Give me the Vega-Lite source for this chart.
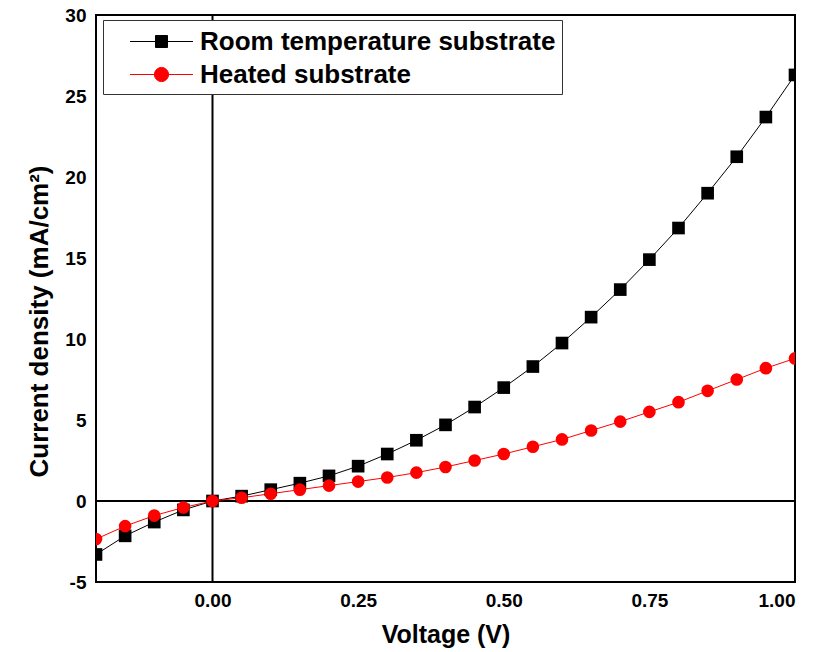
{
  "$schema": "https://vega.github.io/schema/vega-lite/v6.json",
  "width": 699,
  "height": 567,
  "autosize": {"type": "none"},
  "padding": {"left": 96, "top": 15, "right": 20, "bottom": 70},
  "background": "white",
  "config": {
    "view": {"stroke": "black", "strokeWidth": 2},
    "font": "Liberation Sans",
    "axis": {
      "grid": false, "ticks": false, "domain": false,
      "labelFont": "Liberation Sans", "labelFontWeight": "bold", "labelFontSize": 19, "labelColor": "black",
      "titleFont": "Liberation Sans", "titleFontWeight": "bold", "titleFontSize": 25, "titleColor": "black"
    }
  },
  "datasets": {
    "jv": [
      {"v": -0.2, "j": -3.3, "s": "Room temperature substrate"},
      {"v": -0.15, "j": -2.15, "s": "Room temperature substrate"},
      {"v": -0.1, "j": -1.3, "s": "Room temperature substrate"},
      {"v": -0.05, "j": -0.55, "s": "Room temperature substrate"},
      {"v": 0.0, "j": 0.0, "s": "Room temperature substrate"},
      {"v": 0.05, "j": 0.3, "s": "Room temperature substrate"},
      {"v": 0.1, "j": 0.7, "s": "Room temperature substrate"},
      {"v": 0.15, "j": 1.1, "s": "Room temperature substrate"},
      {"v": 0.2, "j": 1.55, "s": "Room temperature substrate"},
      {"v": 0.25, "j": 2.15, "s": "Room temperature substrate"},
      {"v": 0.3, "j": 2.9, "s": "Room temperature substrate"},
      {"v": 0.35, "j": 3.75, "s": "Room temperature substrate"},
      {"v": 0.4, "j": 4.7, "s": "Room temperature substrate"},
      {"v": 0.45, "j": 5.8, "s": "Room temperature substrate"},
      {"v": 0.5, "j": 7.0, "s": "Room temperature substrate"},
      {"v": 0.55, "j": 8.3, "s": "Room temperature substrate"},
      {"v": 0.6, "j": 9.75, "s": "Room temperature substrate"},
      {"v": 0.65, "j": 11.35, "s": "Room temperature substrate"},
      {"v": 0.7, "j": 13.05, "s": "Room temperature substrate"},
      {"v": 0.75, "j": 14.9, "s": "Room temperature substrate"},
      {"v": 0.8, "j": 16.85, "s": "Room temperature substrate"},
      {"v": 0.85, "j": 19.0, "s": "Room temperature substrate"},
      {"v": 0.9, "j": 21.25, "s": "Room temperature substrate"},
      {"v": 0.95, "j": 23.7, "s": "Room temperature substrate"},
      {"v": 1.0, "j": 26.3, "s": "Room temperature substrate"},
      {"v": -0.2, "j": -2.35, "s": "Heated substrate"},
      {"v": -0.15, "j": -1.55, "s": "Heated substrate"},
      {"v": -0.1, "j": -0.9, "s": "Heated substrate"},
      {"v": -0.05, "j": -0.4, "s": "Heated substrate"},
      {"v": 0.0, "j": 0.0, "s": "Heated substrate"},
      {"v": 0.05, "j": 0.2, "s": "Heated substrate"},
      {"v": 0.1, "j": 0.45, "s": "Heated substrate"},
      {"v": 0.15, "j": 0.7, "s": "Heated substrate"},
      {"v": 0.2, "j": 0.95, "s": "Heated substrate"},
      {"v": 0.25, "j": 1.2, "s": "Heated substrate"},
      {"v": 0.3, "j": 1.45, "s": "Heated substrate"},
      {"v": 0.35, "j": 1.75, "s": "Heated substrate"},
      {"v": 0.4, "j": 2.1, "s": "Heated substrate"},
      {"v": 0.45, "j": 2.5, "s": "Heated substrate"},
      {"v": 0.5, "j": 2.9, "s": "Heated substrate"},
      {"v": 0.55, "j": 3.35, "s": "Heated substrate"},
      {"v": 0.6, "j": 3.8, "s": "Heated substrate"},
      {"v": 0.65, "j": 4.35, "s": "Heated substrate"},
      {"v": 0.7, "j": 4.9, "s": "Heated substrate"},
      {"v": 0.75, "j": 5.5, "s": "Heated substrate"},
      {"v": 0.8, "j": 6.1, "s": "Heated substrate"},
      {"v": 0.85, "j": 6.8, "s": "Heated substrate"},
      {"v": 0.9, "j": 7.5, "s": "Heated substrate"},
      {"v": 0.95, "j": 8.2, "s": "Heated substrate"},
      {"v": 1.0, "j": 8.8, "s": "Heated substrate"}
    ]
  },
  "layer": [
    {
      "data": {"values": [{"x0": 0}]},
      "mark": {"type": "rule", "color": "black", "strokeWidth": 2},
      "encoding": {"x": {"field": "x0", "type": "quantitative", "scale": {"domain": [-0.2, 1.0]}}}
    },
    {
      "data": {"values": [{"y0": 0}]},
      "mark": {"type": "rule", "color": "black", "strokeWidth": 2},
      "encoding": {"y": {"field": "y0", "type": "quantitative", "scale": {"domain": [-5, 30]}}}
    },
    {
      "data": {"name": "jv"},
      "mark": {"type": "line", "strokeWidth": 1, "clip": true},
      "encoding": {
        "x": {"field": "v", "type": "quantitative"},
        "y": {"field": "j", "type": "quantitative"},
        "color": {"field": "s", "type": "nominal",
          "scale": {"domain": ["Room temperature substrate", "Heated substrate"], "range": ["black", "red"]},
          "legend": {
            "title": null, "orient": "none", "legendX": 7, "legendY": 5,
            "strokeColor": "#333", "fillColor": "white", "padding": 6,
            "symbolSize": 900, "symbolStrokeWidth": 1, "symbolOpacity": 1, "symbolOffset": 37, "labelOffset": 23, "labelLimit": 600,
            "labelFont": "Liberation Sans", "labelFontWeight": "bold", "labelFontSize": 26, "labelColor": "black",
            "rowPadding": 4
          }},
        "detail": {"field": "s"}
      }
    },
    {
      "data": {"name": "jv"},
      "transform": [{"filter": "datum.s === 'Room temperature substrate'"}],
      "mark": {"type": "point", "shape": "square", "filled": true, "opacity": 1, "size": 160, "clip": true},
      "encoding": {
        "x": {"field": "v", "type": "quantitative",
          "scale": {"domain": [-0.2, 1.0], "nice": false, "zero": false},
          "axis": {"values": [0, 0.25, 0.5, 0.75, 1.0], "format": ".2f", "labelPadding": 9, "title": "Voltage (V)", "titlePadding": 12}},
        "y": {"field": "j", "type": "quantitative",
          "scale": {"domain": [-5, 30], "nice": false, "zero": false},
          "axis": {"values": [-5, 0, 5, 10, 15, 20, 25, 30], "labelExpr": "'' + datum.value", "labelPadding": 10, "title": "Current density (mA/cm²)", "titleFontSize": 26, "titlePadding": 12, "titleY": 306}},
        "color": {"field": "s", "type": "nominal"}
      }
    },
    {
      "data": {"name": "jv"},
      "transform": [{"filter": "datum.s === 'Heated substrate'"}],
      "mark": {"type": "point", "shape": "circle", "filled": true, "opacity": 1, "size": 160, "clip": true},
      "encoding": {
        "x": {"field": "v", "type": "quantitative"},
        "y": {"field": "j", "type": "quantitative"},
        "color": {"field": "s", "type": "nominal"}
      }
    },
    {
      "data": {"name": "jv"},
      "transform": [{"filter": "false"}],
      "mark": {"type": "point", "filled": true},
      "encoding": {
        "x": {"field": "v", "type": "quantitative"},
        "y": {"field": "j", "type": "quantitative"},
        "color": {"field": "s", "type": "nominal"},
        "shape": {"field": "s", "type": "nominal",
          "scale": {"domain": ["Room temperature substrate", "Heated substrate"],
            "range": ["M-2.1,0H2.1M-0.4,-0.4H0.4V0.4H-0.4Z", "M-2.1,0H2.1M0.47,0A0.47,0.47,0,1,1,-0.47,0A0.47,0.47,0,1,1,0.47,0Z"]}}
      }
    }
  ]
}
